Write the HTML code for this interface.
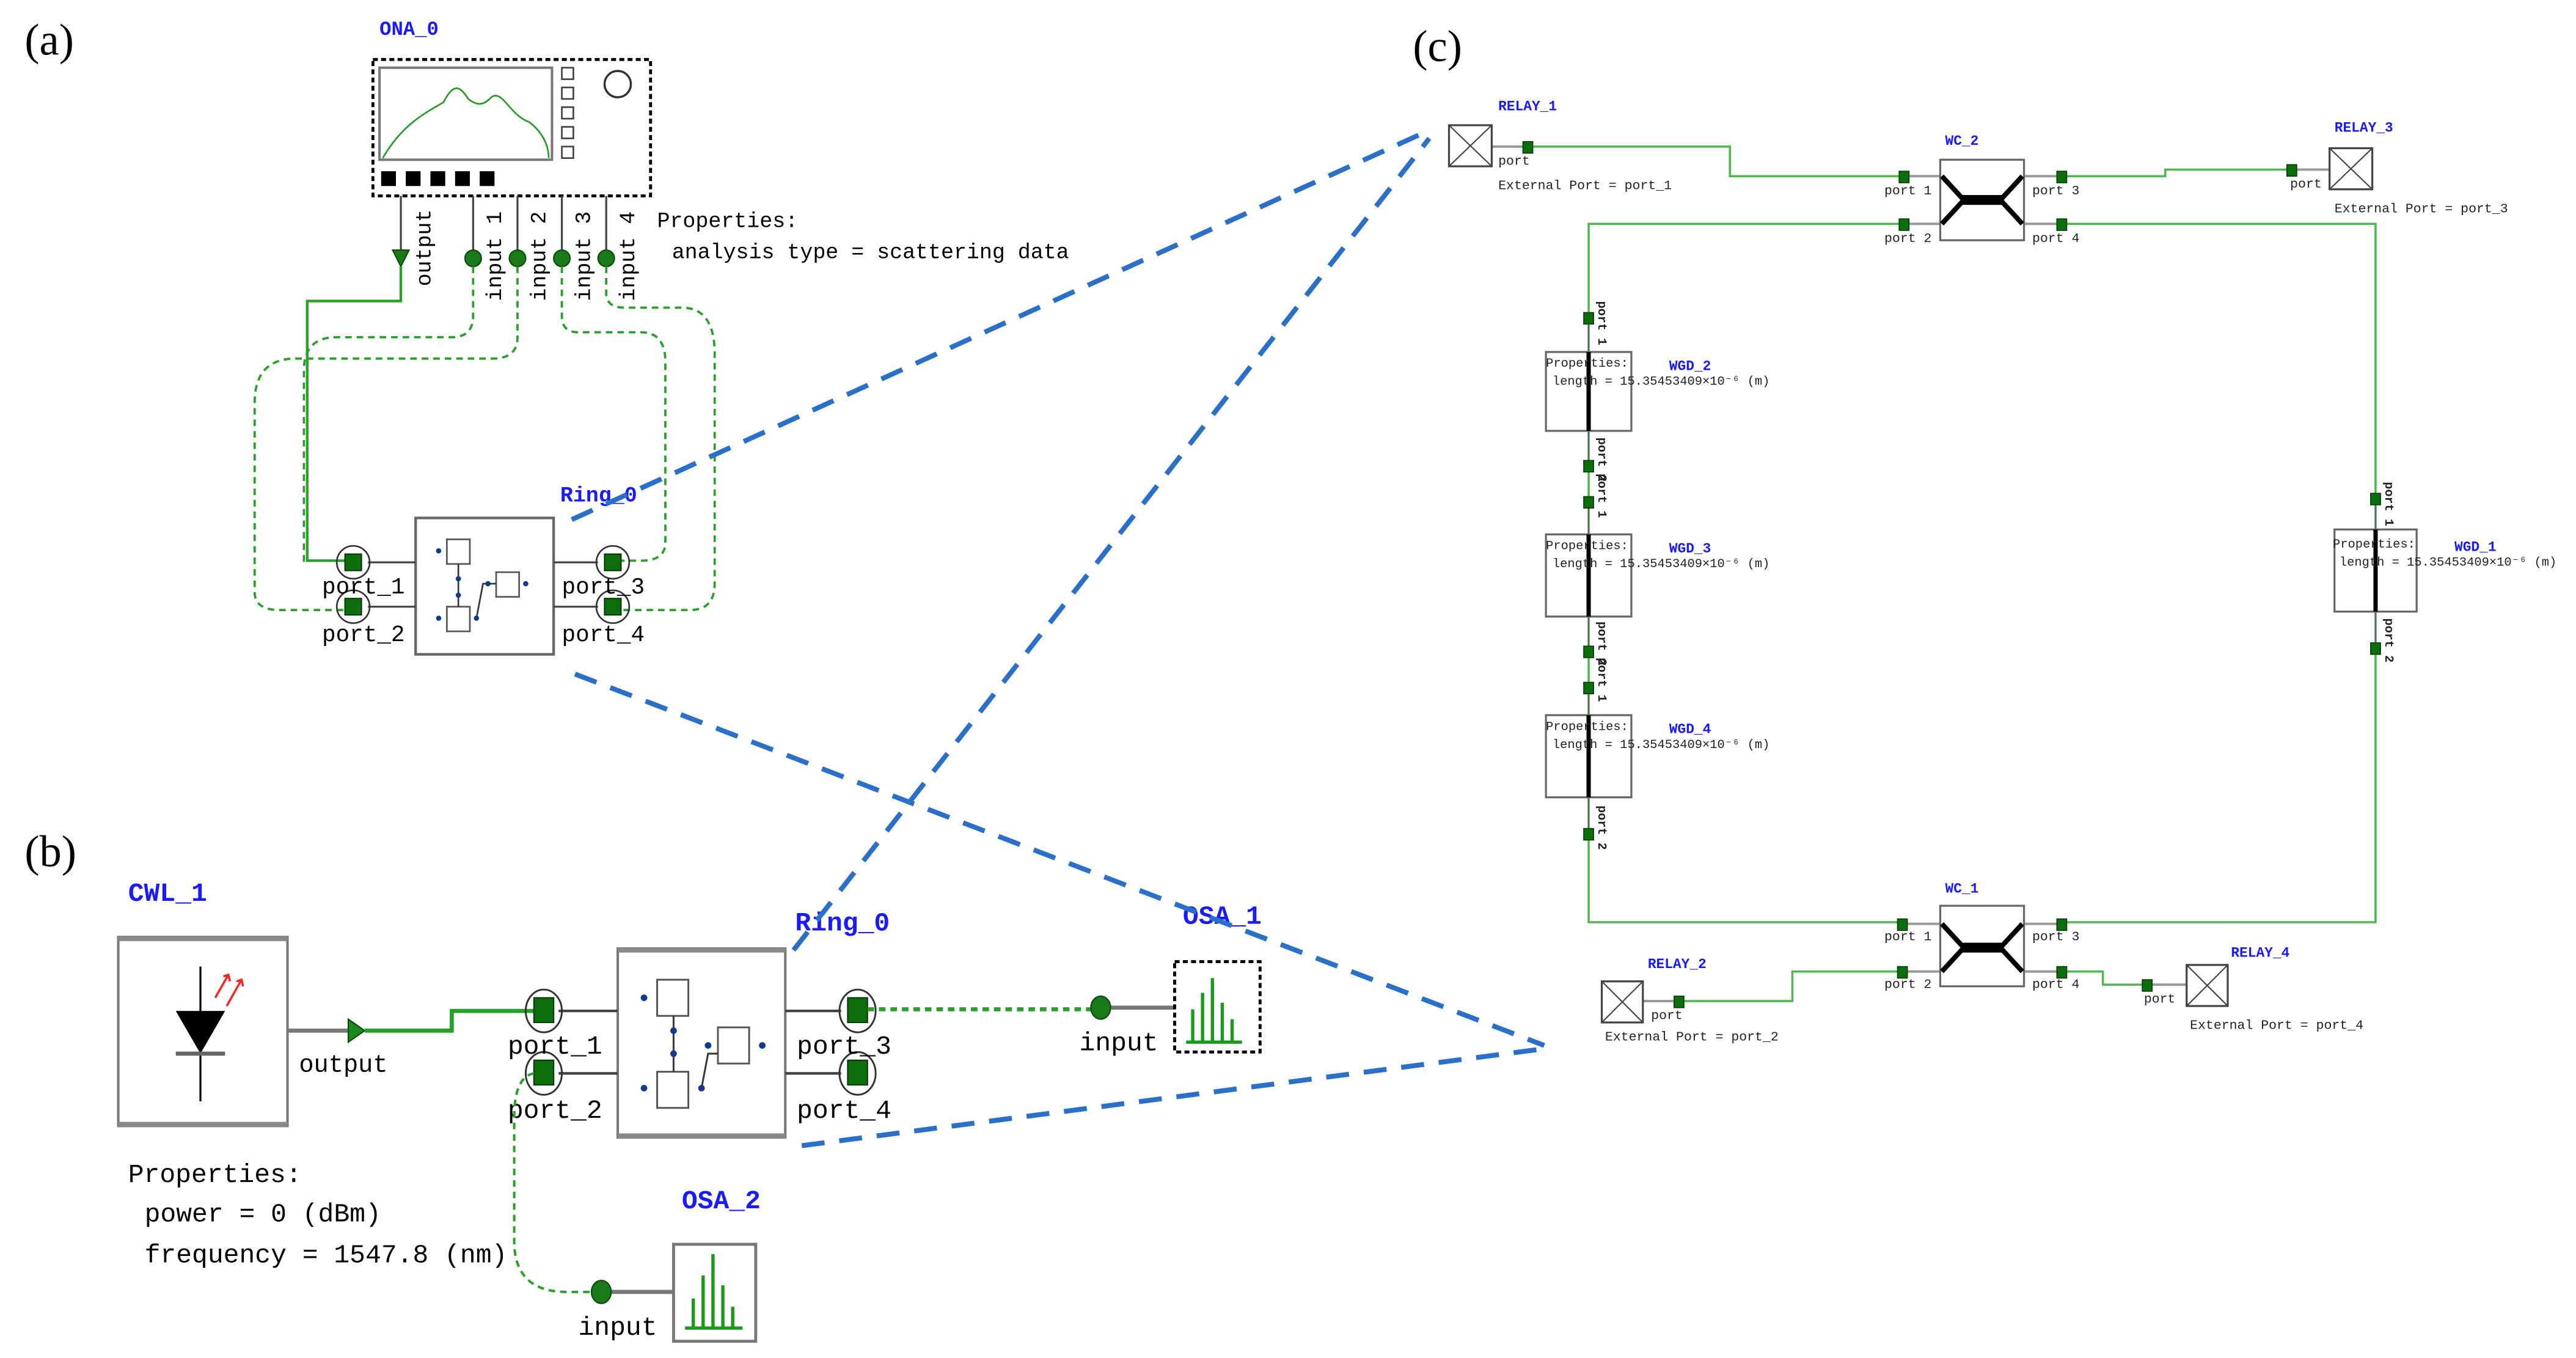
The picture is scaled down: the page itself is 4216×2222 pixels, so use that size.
<!DOCTYPE html>
<html><head><meta charset="utf-8"><style>
html,body{margin:0;padding:0;background:#fff;}
svg{display:block;}
text{font-family:"Liberation Serif",serif;}
.b, .b text{fill:#1a1aff;font-weight:bold;font-family:"Liberation Mono",monospace;}
.m, .m text{font-family:"Liberation Mono",monospace;}
</style></head><body>
<svg width="4216" height="2222" viewBox="0 0 1568 826" xmlns="http://www.w3.org/2000/svg">
<rect width="1568" height="826" fill="#fff"/>
<text x="15" y="33" font-size="27">(a)</text>
<text x="15" y="527" font-size="27">(b)</text>
<text x="860" y="37" font-size="27">(c)</text>

<!-- ===== Panel (a) ===== -->
<text x="231" y="21" class="b" font-size="12">ONA_0</text>
<rect x="227" y="36" width="169" height="83" fill="#fff" stroke="#000" stroke-width="1.8" stroke-dasharray="3,2"/>
<rect x="231" y="41" width="105" height="56" fill="#fff" stroke="#777" stroke-width="1.5"/>
<path d="M233,96 C245,75 260,68 270,62 C276,50 280,52 285,60 C290,64 294,64 298,60 C305,52 310,70 322,74 C330,80 334,88 334,96" fill="none" stroke="#2a9a2a" stroke-width="1"/>
<g fill="#fff" stroke="#444" stroke-width="1">
<rect x="342" y="41" width="7" height="7"/><rect x="342" y="53" width="7" height="7"/><rect x="342" y="65" width="7" height="7"/><rect x="342" y="77" width="7" height="7"/><rect x="342" y="89" width="7" height="7"/>
</g>
<circle cx="376" cy="51" r="8" fill="#fff" stroke="#333" stroke-width="1.3"/>
<g fill="#000"><rect x="232" y="104" width="9" height="9"/><rect x="247" y="104" width="9" height="9"/><rect x="262" y="104" width="9" height="9"/><rect x="277" y="104" width="9" height="9"/><rect x="292" y="104" width="9" height="9"/></g>
<g stroke="#444" stroke-width="1.2">
<line x1="244" y1="119" x2="244" y2="152"/><line x1="288" y1="119" x2="288" y2="152"/><line x1="315" y1="119" x2="315" y2="152"/><line x1="342" y1="119" x2="342" y2="152"/><line x1="369" y1="119" x2="369" y2="152"/>
</g>
<polygon points="239,152 249,152 244,162" fill="#1a7a1a" stroke="#0a4a0a" stroke-width="0.8"/>
<g fill="#1a7a1a" stroke="#0a4a0a" stroke-width="0.8"><circle cx="288" cy="157" r="5"/><circle cx="315" cy="157" r="5"/><circle cx="342" cy="157" r="5"/><circle cx="369" cy="157" r="5"/></g>
<g font-size="13" class="m">
<text transform="translate(262,174) rotate(-90)">output</text>
<text transform="translate(305,183) rotate(-90)">input 1</text>
<text transform="translate(332,183) rotate(-90)">input 2</text>
<text transform="translate(359,183) rotate(-90)">input 3</text>
<text transform="translate(386,183) rotate(-90)">input 4</text>
<text x="400" y="138" font-size="13">Properties:</text>
<text x="409" y="157" font-size="13">analysis type = scattering data</text>
</g>
<path d="M244,162 V183 H187 V341 H215" fill="none" stroke="#2aa02a" stroke-width="1.6"/>
<g fill="none" stroke="#2aa02a" stroke-width="1.4" stroke-dasharray="4,3">
<path d="M288,162 V192 Q288,205 275,205 H205 Q185,205 185,225 V341 H215"/>
<path d="M315,162 V205 Q315,218 300,218 H180 Q155,218 155,245 V360 Q155,371 170,371 H215"/>
<path d="M342,162 V192 Q342,202 352,202 H390 Q405,202 405,220 V330 Q405,341 390,341 H373"/>
<path d="M369,162 V178 Q369,187 380,187 H415 Q435,187 435,215 V355 Q435,371 420,371 H373"/>
</g>
<text x="341" y="305" class="b" font-size="13">Ring_0</text>
<rect x="253" y="315" width="84" height="83" fill="#fff" stroke="#666" stroke-width="1.6"/>
<g stroke="#444" stroke-width="1.2"><line x1="224" y1="342" x2="253" y2="342"/><line x1="224" y1="369" x2="253" y2="369"/><line x1="337" y1="342" x2="364" y2="342"/><line x1="337" y1="369" x2="364" y2="369"/></g>
<g fill="#fff" stroke="#555" stroke-width="1"><rect x="272" y="328" width="14" height="15"/><rect x="302" y="348" width="14" height="15"/><rect x="272" y="369" width="14" height="15"/></g>
<path d="M279,343 V369 M290,376 L294,355 L302,355" fill="none" stroke="#334" stroke-width="1"/>
<g fill="#123a8a"><circle cx="267" cy="335" r="1.6"/><circle cx="279" cy="352" r="1.6"/><circle cx="279" cy="362" r="1.6"/><circle cx="267" cy="376" r="1.6"/><circle cx="290" cy="376" r="1.6"/><circle cx="297" cy="355" r="1.6"/><circle cx="320" cy="355" r="1.6"/></g>
<g stroke="#333" stroke-width="1" fill="none"><circle cx="215" cy="342" r="10"/><circle cx="215" cy="369" r="10"/><circle cx="373" cy="342" r="10"/><circle cx="373" cy="369" r="10"/></g>
<g fill="#0c6e0c" stroke="#063a06" stroke-width="0.8"><rect x="210" y="337" width="10" height="10"/><rect x="210" y="364" width="10" height="10"/><rect x="368" y="337" width="10" height="10"/><rect x="368" y="364" width="10" height="10"/></g>
<g class="m" font-size="14"><text x="196" y="361">port_1</text><text x="196" y="390">port_2</text><text x="342" y="361">port_3</text><text x="342" y="390">port_4</text></g>

<!-- ===== Panel (b) ===== -->
<text x="78" y="548" class="b" font-size="16">CWL_1</text>
<rect x="72" y="570" width="103" height="115" fill="#fff" stroke="#777" stroke-width="1.5"/>
<line x1="72" y1="571" x2="175" y2="571" stroke="#888" stroke-width="3"/><line x1="72" y1="684" x2="175" y2="684" stroke="#888" stroke-width="3"/>
<line x1="122" y1="588" x2="122" y2="670" stroke="#000" stroke-width="1.2"/>
<polygon points="107,615 137,615 122,641" fill="#000"/>
<line x1="107" y1="641" x2="137" y2="641" stroke="#666" stroke-width="2.5"/>
<path d="M131,607 L139,593 M136,594 L139,593 L140,597 M138,612 L147,596 M144,597 L147,596 L148,600" stroke="#ff2020" stroke-width="1.3" fill="none"/>
<line x1="175" y1="627" x2="212" y2="627" stroke="#777" stroke-width="2.5"/>
<polygon points="212,620 212,634 222,627" fill="#1a8a1a" stroke="#0a4a0a" stroke-width="0.8"/>
<text x="182" y="652" class="m" font-size="15">output</text>
<path d="M222,627 H275 V615 H325" fill="none" stroke="#2aa02a" stroke-width="2.5"/>
<text x="484" y="566" class="b" font-size="16">Ring_0</text>
<rect x="376" y="577" width="102" height="115" fill="#fff" stroke="#777" stroke-width="1.5"/>
<line x1="376" y1="578" x2="478" y2="578" stroke="#888" stroke-width="3"/><line x1="376" y1="691" x2="478" y2="691" stroke="#888" stroke-width="3"/>
<g stroke="#444" stroke-width="1.6"><line x1="340" y1="615" x2="376" y2="615"/><line x1="340" y1="653" x2="376" y2="653"/><line x1="478" y1="615" x2="512" y2="615"/><line x1="478" y1="653" x2="512" y2="653"/></g>
<g fill="#fff" stroke="#555" stroke-width="1.1"><rect x="400" y="596" width="19" height="22"/><rect x="437" y="625" width="19" height="22"/><rect x="400" y="652" width="19" height="22"/></g>
<path d="M410,618 V652 M427,662 L431,641 L437,641" fill="none" stroke="#334" stroke-width="1.1"/>
<g fill="#123a8a"><circle cx="392" cy="607" r="2"/><circle cx="410" cy="627" r="2"/><circle cx="410" cy="641" r="2"/><circle cx="392" cy="662" r="2"/><circle cx="427" cy="662" r="2"/><circle cx="431" cy="636" r="2"/><circle cx="464" cy="636" r="2"/></g>
<g stroke="#333" stroke-width="1.1" fill="none"><ellipse cx="331" cy="615" rx="11" ry="13"/><ellipse cx="331" cy="653" rx="11" ry="13"/><ellipse cx="522" cy="615" rx="11" ry="13"/><ellipse cx="522" cy="653" rx="11" ry="13"/></g>
<g fill="#0c6e0c" stroke="#063a06" stroke-width="0.8"><rect x="325" y="607" width="12" height="15"/><rect x="325" y="645" width="12" height="15"/><rect x="516" y="607" width="12" height="15"/><rect x="516" y="645" width="12" height="15"/></g>
<g class="m" font-size="16"><text x="309" y="641">port_1</text><text x="309" y="680">port_2</text><text x="485" y="641">port_3</text><text x="485" y="680">port_4</text></g>
<path d="M528,614 H665" fill="none" stroke="#2aa02a" stroke-width="2.5" stroke-dasharray="4,3"/>
<path d="M325,653 Q313,655 313,680 V755 Q313,786 345,786 H360" fill="none" stroke="#2aa02a" stroke-width="1.5" stroke-dasharray="4,3"/>
<text x="720" y="562" class="b" font-size="16">OSA_1</text>
<line x1="670" y1="613" x2="715" y2="613" stroke="#777" stroke-width="2.5"/>
<ellipse cx="670" cy="613" rx="6" ry="7" fill="#1a7a1a" stroke="#0a4a0a" stroke-width="0.8"/>
<rect x="715" y="585" width="52" height="55" fill="#fff" stroke="#000" stroke-width="1.8" stroke-dasharray="3,2"/>
<path d="M722,634 H756 M726,634 V614 M732,634 V604 M738,634 V595 M744,634 V610 M750,634 V620" stroke="#1a9a1a" stroke-width="2" fill="none"/>
<text x="657" y="639" class="m" font-size="16">input</text>
<text x="415" y="735" class="b" font-size="16">OSA_2</text>
<line x1="366" y1="786" x2="410" y2="786" stroke="#777" stroke-width="2.5"/>
<ellipse cx="366" cy="786" rx="6" ry="7" fill="#1a7a1a" stroke="#0a4a0a" stroke-width="0.8"/>
<rect x="410" y="757" width="50" height="59" fill="#fff" stroke="#777" stroke-width="1.8"/>
<path d="M417,808 H452 M422,808 V790 M428,808 V776 M434,808 V763 M440,808 V782 M446,808 V795" stroke="#1a9a1a" stroke-width="2" fill="none"/>
<text x="352" y="812" class="m" font-size="16">input</text>
<g class="m" font-size="16"><text x="78" y="719">Properties:</text><text x="88" y="743">power = 0 (dBm)</text><text x="88" y="768">frequency = 1547.8 (nm)</text></g>

<g stroke="#2a6fc8" stroke-width="3" stroke-dasharray="14,9" fill="none">
<line x1="348" y1="316" x2="868" y2="80"/>
<line x1="350" y1="410" x2="940" y2="636"/>
<line x1="483" y1="578" x2="870" y2="84"/>
<line x1="488" y1="697" x2="940" y2="638"/>
</g>

<!-- ===== Panel (c) ===== -->
<g fill="none" stroke="#4cb84c" stroke-width="1.3">
<path d="M930,89 H1053 V107 H1159"/>
<path d="M1255,107 H1318 V103 H1395"/>
<path d="M1159,136 H967 V507 V561 H1158"/>
<path d="M1255,136 H1446 V561 H1255"/>
<path d="M1022,609 H1091 V591 H1158"/>
<path d="M1255,591 H1280 V599 H1307"/>
</g>
<g stroke="#999" stroke-width="1.5">
<line x1="908" y1="89" x2="930" y2="89"/><line x1="1395" y1="103" x2="1418" y2="103"/>
<line x1="1000" y1="609" x2="1022" y2="609"/><line x1="1307" y1="599" x2="1331" y2="599"/>
<line x1="1159" y1="107" x2="1181" y2="107"/><line x1="1159" y1="136" x2="1181" y2="136"/><line x1="1232" y1="107" x2="1255" y2="107"/><line x1="1232" y1="136" x2="1255" y2="136"/>
<line x1="1158" y1="562" x2="1181" y2="562"/><line x1="1158" y1="591" x2="1181" y2="591"/><line x1="1232" y1="562" x2="1255" y2="562"/><line x1="1232" y1="591" x2="1255" y2="591"/>
</g>
<g fill="#fff" stroke="#444" stroke-width="1.2">
<rect x="882" y="76" width="26" height="25"/><rect x="1418" y="90" width="26" height="25"/><rect x="975" y="597" width="25" height="25"/><rect x="1331" y="587" width="25" height="25"/>
</g>
<path d="M882,76 L908,101 M908,76 L882,101 M1418,90 L1444,115 M1444,90 L1418,115 M975,597 L1000,622 M1000,597 L975,622 M1331,587 L1356,612 M1356,587 L1331,612" stroke="#444" stroke-width="0.8"/>
<rect x="1181" y="97" width="51" height="49" fill="#fff" stroke="#666" stroke-width="1.2"/>
<path d="M1182,107 L1194,120 H1219 L1231,107 M1182,136 L1194,123 H1219 L1231,136" fill="none" stroke="#000" stroke-width="3"/>
<rect x="1181" y="551" width="51" height="49" fill="#fff" stroke="#666" stroke-width="1.2"/>
<path d="M1182,562 L1194,575 H1219 L1231,562 M1182,591 L1194,578 H1219 L1231,591" fill="none" stroke="#000" stroke-width="3"/>
<g fill="#fff" stroke="#666" stroke-width="1.2">
<rect x="941" y="214" width="52" height="48"/><rect x="941" y="325" width="52" height="50"/><rect x="941" y="435" width="52" height="50"/><rect x="1421" y="322" width="50" height="50"/>
</g>
<g stroke="#000" stroke-width="2.6"><line x1="967" y1="214" x2="967" y2="262"/><line x1="967" y1="325" x2="967" y2="375"/><line x1="967" y1="435" x2="967" y2="485"/><line x1="1446" y1="322" x2="1446" y2="372"/></g>
<g stroke="#666" stroke-width="1"><line x1="967" y1="193" x2="967" y2="214"/><line x1="967" y1="262" x2="967" y2="283"/><line x1="967" y1="305" x2="967" y2="325"/><line x1="967" y1="375" x2="967" y2="396"/><line x1="967" y1="418" x2="967" y2="435"/><line x1="967" y1="485" x2="967" y2="507"/><line x1="1446" y1="303" x2="1446" y2="322"/><line x1="1446" y1="372" x2="1446" y2="394"/></g>
<g fill="#0c6e0c" stroke="#063a06" stroke-width="0.6">
<rect x="927" y="86" width="6" height="7"/><rect x="1392" y="100" width="6" height="7"/><rect x="1019" y="606" width="6" height="7"/><rect x="1304" y="596" width="6" height="7"/>
<rect x="1156" y="104" width="6" height="7"/><rect x="1156" y="133" width="6" height="7"/><rect x="1252" y="104" width="6" height="7"/><rect x="1252" y="133" width="6" height="7"/>
<rect x="1155" y="559" width="6" height="7"/><rect x="1155" y="588" width="6" height="7"/><rect x="1252" y="559" width="6" height="7"/><rect x="1252" y="588" width="6" height="7"/>
<rect x="964" y="190" width="6" height="7"/><rect x="964" y="280" width="6" height="7"/><rect x="964" y="302" width="6" height="7"/><rect x="964" y="393" width="6" height="7"/><rect x="964" y="415" width="6" height="7"/><rect x="964" y="504" width="6" height="7"/>
<rect x="1443" y="300" width="6" height="7"/><rect x="1443" y="391" width="6" height="7"/>
</g>
<g class="b" font-size="8.5">
<text x="912" y="67">RELAY_1</text><text x="1421" y="80">RELAY_3</text><text x="1003" y="589">RELAY_2</text><text x="1358" y="582">RELAY_4</text>
<text x="1184" y="88">WC_2</text><text x="1184" y="543">WC_1</text>
<text x="1016" y="225">WGD_2</text><text x="1016" y="336">WGD_3</text><text x="1016" y="446">WGD_4</text><text x="1494" y="335">WGD_1</text>
</g>
<g font-size="8" fill="#222" class="m">
<text x="912" y="100">port</text><text x="1394" y="114">port</text><text x="1005" y="620">port</text><text x="1305" y="610">port</text>
<text x="912" y="115">External Port = port_1</text><text x="1421" y="129">External Port = port_3</text><text x="977" y="633">External Port = port_2</text><text x="1333" y="626">External Port = port_4</text>
<text x="1147" y="118">port 1</text><text x="1147" y="147">port 2</text><text x="1237" y="118">port 3</text><text x="1237" y="147">port 4</text>
<text x="1147" y="572">port 1</text><text x="1147" y="601">port 2</text><text x="1237" y="572">port 3</text><text x="1237" y="601">port 4</text>
</g>
<g font-size="7.6" fill="#222" class="m">
<text x="941" y="223">Properties:</text><text x="945" y="234">length = 15.35453409×10⁻⁶  (m)</text>
<text x="941" y="334">Properties:</text><text x="945" y="345">length = 15.35453409×10⁻⁶  (m)</text>
<text x="941" y="444">Properties:</text><text x="945" y="455">length = 15.35453409×10⁻⁶  (m)</text>
<text x="1420" y="333">Properties:</text><text x="1424" y="344">length = 15.35453409×10⁻⁶  (m)</text>
</g>
<g font-size="7.5" font-weight="bold" fill="#222" class="m">
<text transform="translate(973,183) rotate(90)">port 1</text>
<text transform="translate(973,266) rotate(90)">port 2</text>
<text transform="translate(973,288) rotate(90)">port 1</text>
<text transform="translate(973,378) rotate(90)">port 2</text>
<text transform="translate(973,400) rotate(90)">port 1</text>
<text transform="translate(973,490) rotate(90)">port 2</text>
<text transform="translate(1452,293) rotate(90)">port 1</text>
<text transform="translate(1452,376) rotate(90)">port 2</text>
</g>
</svg>
</body></html>
